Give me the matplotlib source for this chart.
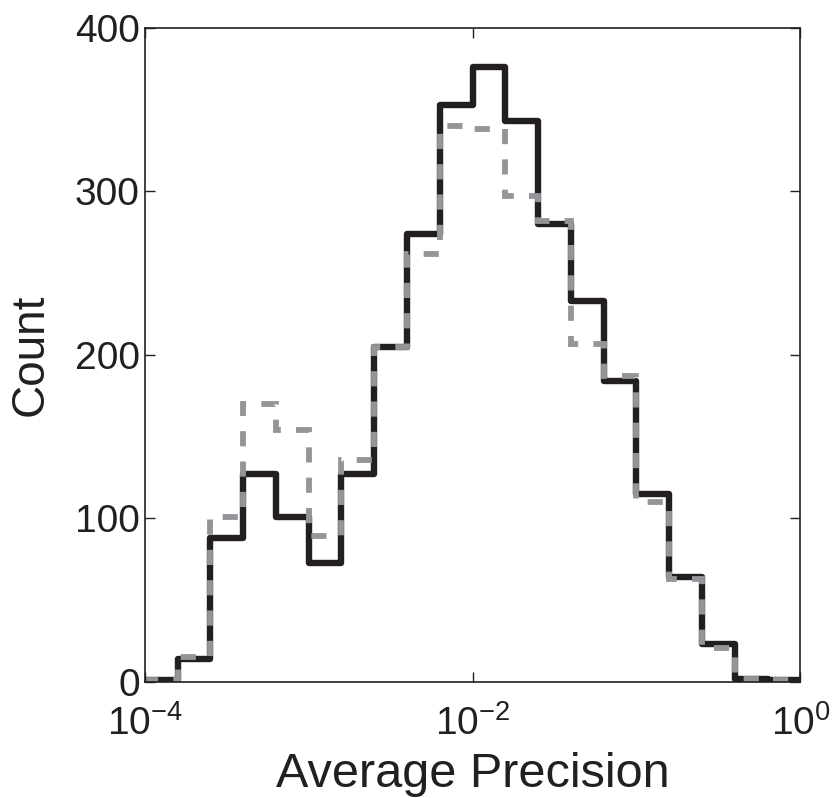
import numpy as np
import matplotlib
matplotlib.use('Agg')
import matplotlib.pyplot as plt

plt.rcParams['font.family'] = ['Liberation Sans', 'DejaVu Sans']
plt.rcParams['mathtext.fontset'] = 'custom'
plt.rcParams['mathtext.rm'] = 'Liberation Sans'
plt.rcParams['mathtext.it'] = 'Liberation Sans'

# log10 bin edges, 5 bins per decade from 1e-4 to 1
log_edges = [-4.0, -3.8, -3.6, -3.4, -3.2, -3.0, -2.8, -2.6, -2.4, -2.2, -2.0,
             -1.8, -1.6, -1.4, -1.2, -1.0, -0.8, -0.6, -0.4, -0.2, 0.0]
count_solid = [1, 14, 88, 127, 101, 73, 127, 205, 274, 353, 376,
               343, 280, 233, 184, 115, 64, 23, 2, 1]
count_dashed = [1, 15, 101, 170, 154, 89, 136, 205, 262, 340, 338,
                297, 282, 207, 187, 110, 63, 21, 2, 1]
xtick_vals = [1e-4, 1e-2, 1e0]
xtick_labels = [r'$10^{-4}$', r'$10^{-2}$', r'$10^{0}$']
ytick_vals = [0, 100, 200, 300, 400]

edges = 10.0 ** np.array(log_edges)

fig = plt.figure(figsize=(8.32, 7.98), dpi=100)
ax = fig.add_axes([0.174, 0.1454, 0.788, 0.8196])

ax.stairs(count_solid, edges, color='#231f20', linewidth=4.6,
          joinstyle='round', capstyle='round')
ax.stairs(count_dashed, edges, color='#939598', linewidth=4.2,
          linestyle=(0, (2.6, 2.6)))

ax.set_xscale('log')
ax.set_xlim(1e-4, 1)
ax.set_ylim(0, 400)
ax.set_xticks(xtick_vals)
ax.set_xticklabels(xtick_labels)
ax.xaxis.set_minor_locator(matplotlib.ticker.NullLocator())
ax.set_yticks(ytick_vals)

ax.tick_params(direction='in', top=True, right=True, labelsize=28,
               length=7, width=1, colors='#231f20')
ax.tick_params(axis='x', pad=17)
for s in ax.spines.values():
    s.set_linewidth(1.2)
    s.set_color('#231f20')

ax.set_xlabel('Average Precision', fontsize=35, color='#231f20', labelpad=6)
ax.set_ylabel('Count', fontsize=33, color='#231f20', labelpad=16)

fig.savefig('out.png', dpi=100)
